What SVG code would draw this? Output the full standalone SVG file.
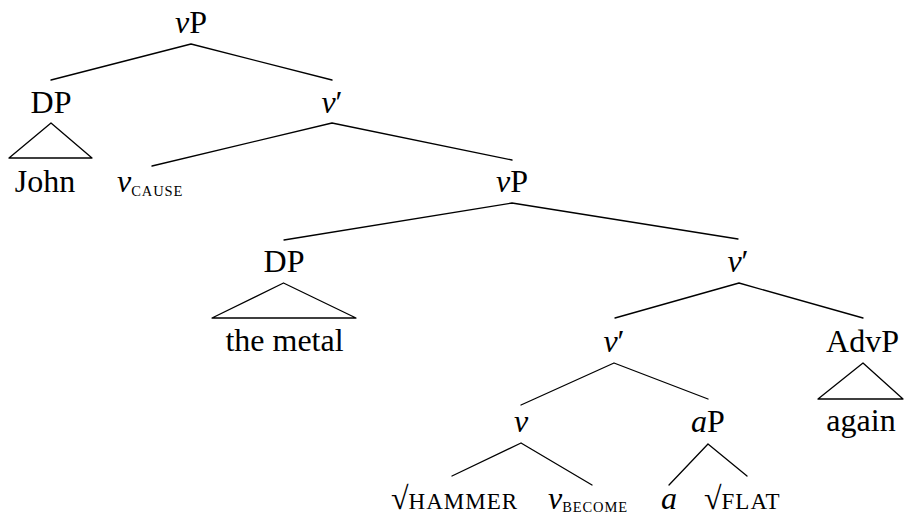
<svg xmlns="http://www.w3.org/2000/svg" width="904" height="517" viewBox="0 0 904 517">
<style>
text{font-family:"Liberation Serif","Times New Roman",serif;font-size:32px;fill:#000}
.m{text-anchor:middle}
.i{font-style:italic}
.sc{font-size:23px;letter-spacing:1px}
.sub{font-size:14.5px;letter-spacing:0.9px}
.bot{font-size:28px}
.rad{font-size:32px}
.e{stroke:#000;stroke-width:1.3;fill:none;stroke-linecap:round;stroke-linejoin:round}
</style>
<rect width="904" height="517" fill="#fff"/>
<g id="edges" class="e">
<path d="M191,44L51,80M191,44L332,80"/>
<path d="M51,123L9,158L92,158Z"/>
<path d="M332,123L152,166M332,123L512,160"/>
<path d="M512,203L284,240M512,203L738,239"/>
<path d="M283.5,283L212,318L356,318Z"/>
<path d="M739,283L615,318M739,283L863,318"/>
<path d="M614,363L521,405M614,363L708,399"/>
<path d="M863,363L818,399L903,399Z"/>
<path d="M521,443L452,476M521,443L592,485"/>
<path d="M708,444L669,485M708,444L747,476"/>
</g>
<g id="n-vP1"><text class="m" x="191" y="33"><tspan class="i">v</tspan>P</text></g>
<g id="n-DP1"><text class="m" x="51" y="113">DP</text></g>
<g id="n-John"><text class="m" x="45" y="192">John</text></g>
<g id="n-vbar1"><text class="m" x="332" y="113"><tspan class="i">v</tspan>′</text></g>
<g id="n-vcause"><text x="117" y="192"><tspan class="i">v</tspan><tspan class="sub" dy="4">CAUSE</tspan></text></g>
<g id="n-vP2"><text class="m" x="512" y="192"><tspan class="i">v</tspan>P</text></g>
<g id="n-DP2"><text class="m" x="284" y="272">DP</text></g>
<g id="n-metal"><text class="m" x="284.5" y="351">the metal</text></g>
<g id="n-vbar2"><text class="m" x="738" y="272"><tspan class="i">v</tspan>′</text></g>
<g id="n-vbar3"><text class="m" x="614" y="352"><tspan class="i">v</tspan>′</text></g>
<g id="n-AdvP"><text class="m" x="862.5" y="352">AdvP</text></g>
<g id="n-again"><text class="m" x="861" y="431">again</text></g>
<g id="n-v"><text class="m" x="521" y="432" font-style="italic">v</text></g>
<g id="n-aP"><text class="m" x="708" y="432"><tspan class="i">a</tspan>P</text></g>
<g id="n-hammer"><text class="bot" x="391" y="509"><tspan class="rad">√</tspan><tspan class="sc">HAMMER</tspan></text></g>
<g id="n-vbecome"><text class="bot" x="548" y="509"><tspan class="i" font-size="32">v</tspan><tspan class="sub" dy="3">BECOME</tspan></text></g>
<g id="n-a"><text class="m i" x="669" y="509">a</text></g>
<g id="n-flat"><text class="bot" x="704" y="509"><tspan class="rad">√</tspan><tspan class="sc">FLAT</tspan></text></g>
</svg>
